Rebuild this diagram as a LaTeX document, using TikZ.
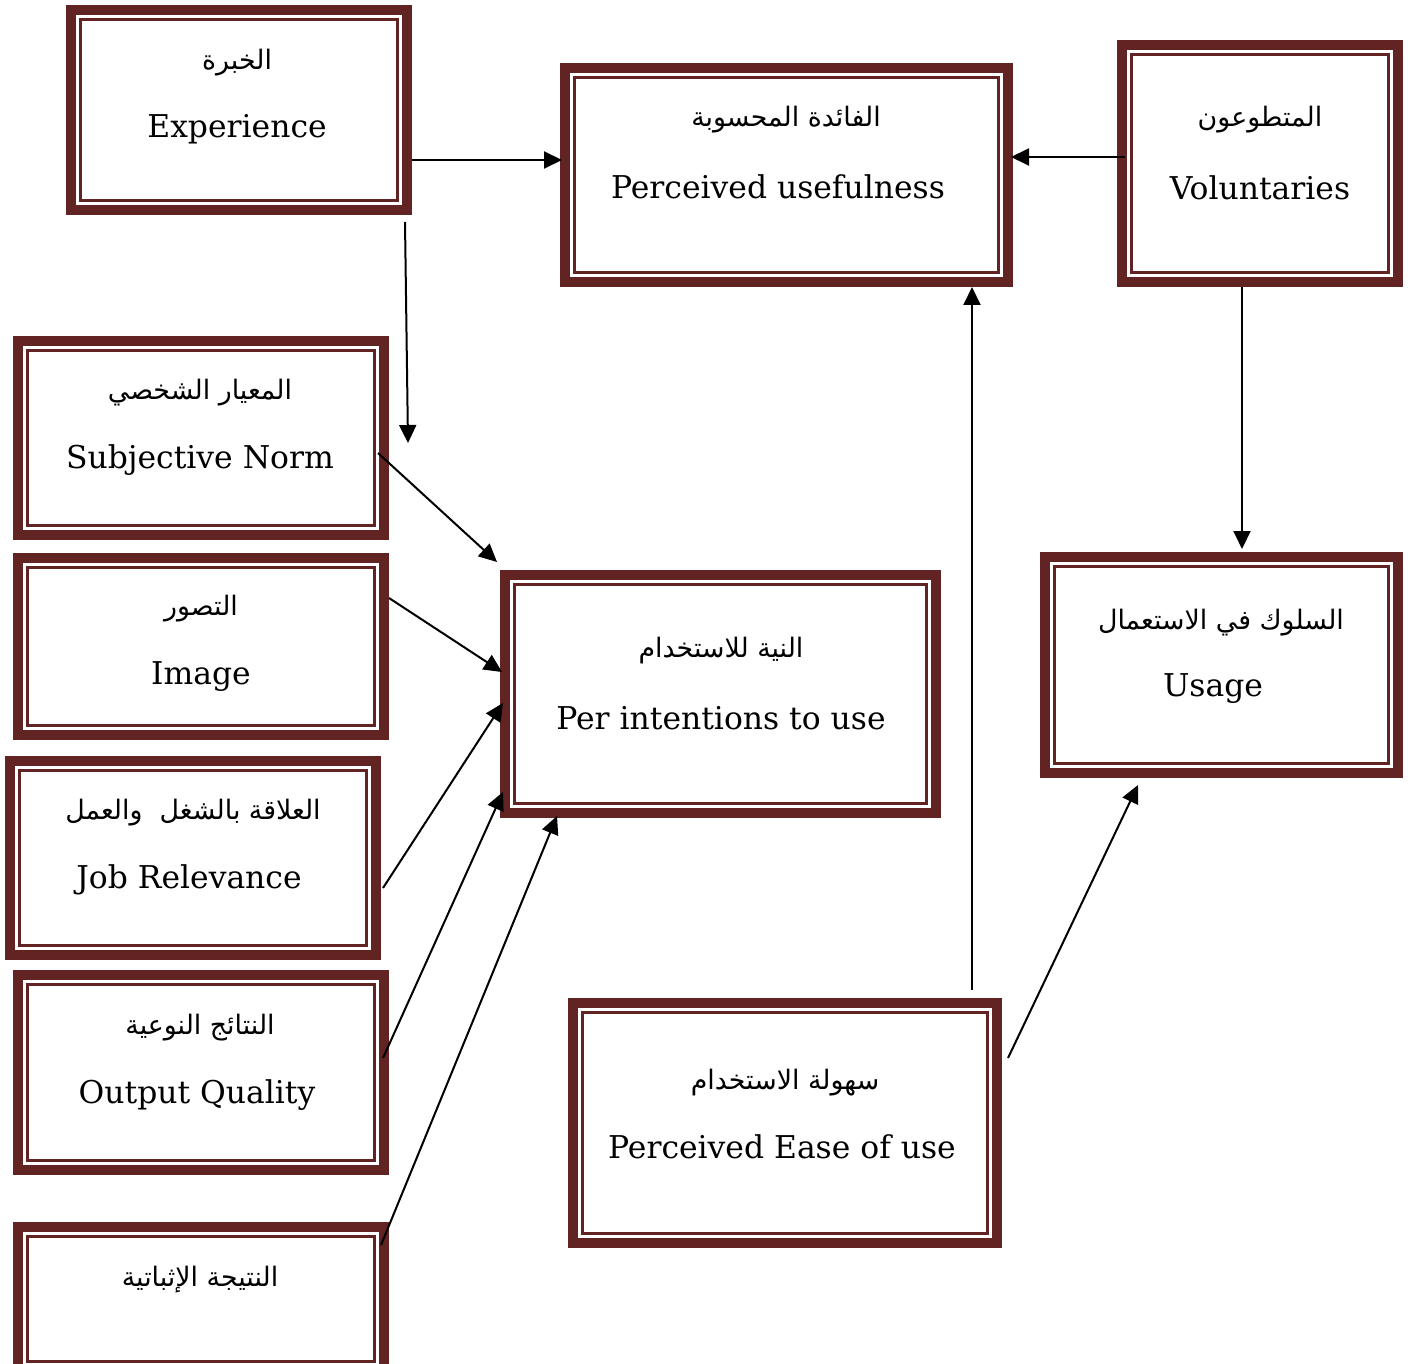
\documentclass[tikz,border=0pt]{standalone}
\usepackage{fontspec}
\setmainfont{DejaVu Serif}
\newfontfamily\arabicfont[Script=Arabic]{DejaVu Sans}
\TeXXeTstate=1
\usetikzlibrary{calc,arrows.meta}
\definecolor{dr}{RGB}{98,36,35}
\tikzset{
  bx/.style={draw=dr, line width=5pt, inner sep=0pt, outer sep=0pt, fill=white},
  thinb/.style={draw=dr, line width=1.5pt},
  ar/.style={font=\arabicfont\fontsize{13.4}{16}\selectfont, inner sep=0pt, yshift=-1.5pt},
  en/.style={font=\fontsize{15.7}{18}\selectfont, inner sep=0pt, yshift=-0.5pt},
  arr/.style={-{Triangle[length=9pt,width=8.5pt]}, line width=1pt},
}
\newcommand\mybox[5]{%
  \node[bx, minimum width={(#4-#2-10)*0.5pt}, minimum height={(#5-#3-10)*0.5pt}] (#1) at ({(#2+#4)/2},{(#3+#5)/2}) {};
  \draw[thinb] ($(#1.north west)+(9.5,9.5)$) rectangle ($(#1.south east)+(-9.5,-9.5)$);
}
\begin{document}
\begin{tikzpicture}[x=0.5pt,y=-0.5pt]
\useasboundingbox[fill=white] (0,0) rectangle (1408,1364);
\mybox{exp}{66}{5}{412}{215}
\mybox{pu}{560}{63}{1013}{287}
\mybox{vol}{1117}{40}{1403}{287}
\mybox{sn}{13}{336}{389}{540}
\mybox{img}{13}{553}{389}{740}
\mybox{job}{5}{756}{381}{960}
\mybox{oq}{13}{970}{389}{1175}
\mybox{res}{13}{1222}{389}{1376}
\mybox{pi}{500}{570}{941}{818}
\mybox{usage}{1040}{552}{1403}{778}
\mybox{peu}{568}{998}{1002}{1248}

\node[ar] (t1a) at (237,60) {\beginR الخبرة\endR};
\node[en] (t1b) at (237,128) {Experience};
\node[ar] (t2a) at (786,117) {\beginR الفائدة المحسوبة\endR};
\node[en] (t2b) at (778,186) {Perceived usefulness};
\node[ar] (t3a) at (1260,117) {\beginR المتطوعون\endR};
\node[en] (t3b) at (1260,187) {Voluntaries};
\node[ar] (t4a) at (200,390) {\beginR المعيار الشخصي\endR};
\node[en] (t4b) at (200,459) {Subjective Norm};
\node[ar] (t5a) at (201,606) {\beginR التصور\endR};
\node[en] (t5b) at (201,676) {Image};
\node[ar] (t6a) at (193,810) {\beginR العلاقة بالشغل\ \ والعمل\endR};
\node[en] (t6b) at (189,879) {Job Relevance};
\node[ar] (t7a) at (200,1025) {\beginR النتائج النوعية\endR};
\node[en] (t7b) at (197,1094) {Output Quality};
\node[ar] (t8a) at (200,1277) {\beginR النتيجة الإثباتية\endR};
\node[ar] (t9a) at (721,648) {\beginR النية للاستخدام\endR};
\node[en] (t9b) at (721,717) {Per intentions to use};
\node[ar] (t10a) at (1221,620) {\beginR السلوك في الاستعمال\endR};
\node[en] (t10b) at (1213,688) {Usage};
\node[ar] (t11a) at (785,1080) {\beginR سهولة الاستخدام\endR};
\node[en] (t11b) at (782,1146) {Perceived Ease of use};

% connectors
\coordinate (e1) at ($(exp.east)+(5,50)$);
\draw[arr, shorten >=1.5pt] (e1) -- (e1 -| pu.west);
\coordinate (v1) at ($(vol.west)+(3,-6.5)$);
\draw[arr, shorten >=1.5pt] (v1) -- (v1 -| pu.east);
\coordinate (e2) at ($(exp.south east)+(-2,12)$);
\coordinate (e2end) at (408,443);
\draw[arr] (e2) -- (e2end);
\draw[arr] ($(sn.east)+(-6,15)$) -- ($(pi.north west)+(-8,-13)$);
\draw[arr] ($(img.east)+(5,-48.5)$) -- ($(pi.west)+(-3,-22)$);
\draw[arr] ($(job.east)+(7,30)$) -- ($(pi.west)+(-2,9)$);
\draw[arr] ($(oq.east)+(-1,-14.5)$) -- ($(pi.west)+(-2,98)$);
\draw[arr] ($(res.north east)+(-3,18)$) -- ($(pi.south west)+(52,3)$);
\coordinate (p1) at ($(peu.north east)+(-25,-13)$);
\draw[arr, shorten >=2.5pt] (p1) -- (p1 |- pu.south);
\draw[arr] ($(peu.east)+(11,-65)$) -- ($(usage.south)+(-83.5,12)$);
\coordinate (v2) at ($(vol.south)+(-18,5)$);
\draw[arr, shorten >=4pt] (v2) -- (v2 |- usage.north);
\end{tikzpicture}
\end{document}
